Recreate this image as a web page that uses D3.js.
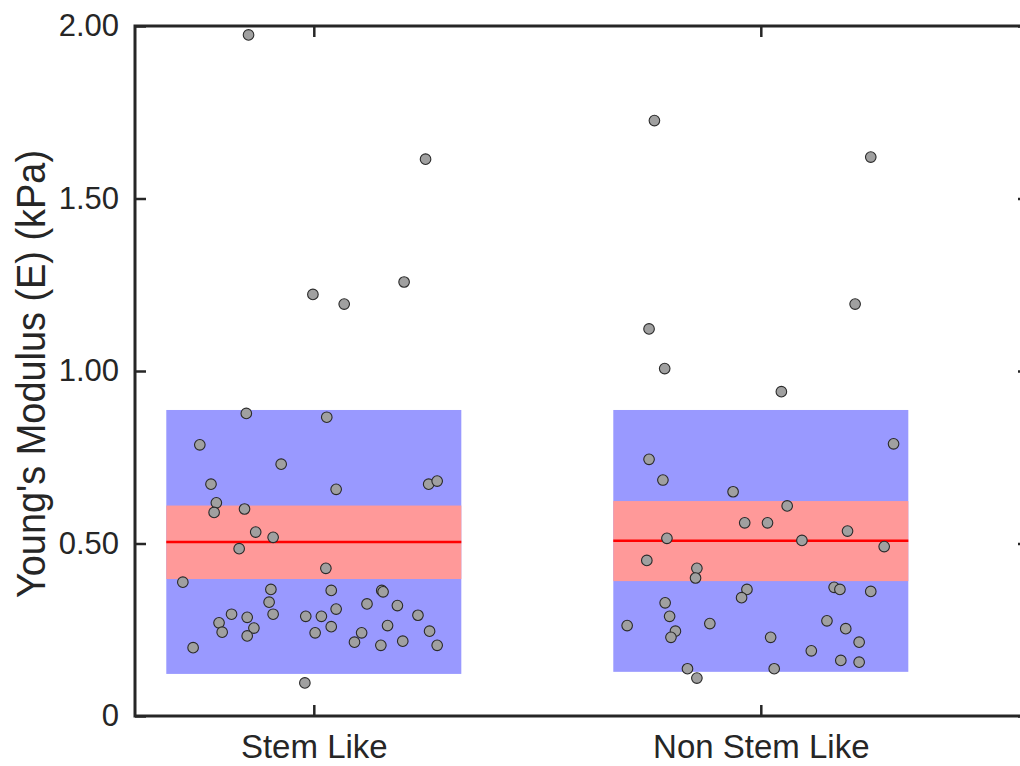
<!DOCTYPE html>
<html>
<head>
<meta charset="utf-8">
<script src="https://cdn.jsdelivr.net/npm/d3@7"></script>
<style>
  body { margin: 0; background: #fff; }
  svg { display: block; }
  text { font-family: "Liberation Sans", Arial, sans-serif; fill: #262626; }
</style>
</head>
<body>
<div id="chart"></div>
<script>
(function(d3) {
  'use strict';

  var groups = ['Stem Like', 'Non Stem Like'];
  var yTicks = [0, 0.5, 1, 1.5, 2];
  var yTickLabels = ['0', '0.50', '1.00', '1.50', '2.00'];

  // summary bands per group
  var means = [0.504, 0.508];
  var semLo = [0.397, 0.391];
  var semHi = [0.610, 0.623];
  var sdLo = [0.122, 0.128];
  var sdHi = [0.887, 0.887];

  // raw points: values and horizontal jitter (in group units)
  var stemVals = [1.974, 1.614, 1.222, 1.194, 1.258, 0.877, 0.866, 0.786, 0.730, 0.672,
    0.657, 0.672, 0.681, 0.618, 0.590, 0.600, 0.533, 0.518, 0.485, 0.428,
    0.388, 0.367, 0.330, 0.295, 0.295, 0.286, 0.270, 0.243, 0.255, 0.232,
    0.198, 0.289, 0.289, 0.364, 0.310, 0.259, 0.241, 0.325, 0.364, 0.360,
    0.320, 0.262, 0.241, 0.214, 0.205, 0.217, 0.292, 0.246, 0.205, 0.096];
  var stemJit = [-0.146, 0.250, -0.002, 0.068, 0.202, -0.151, 0.029, -0.255, -0.073, -0.230,
    0.050, 0.257, 0.276, -0.218, -0.223, -0.155, -0.130, -0.091, -0.167, 0.027,
    -0.293, -0.096, -0.100, -0.091, -0.184, -0.149, -0.212, -0.205, -0.134, -0.149,
    -0.270, -0.018, 0.017, 0.039, 0.050, 0.039, 0.003, 0.119, 0.152, 0.155,
    0.187, 0.165, 0.107, 0.091, 0.150, 0.199, 0.233, 0.259, 0.276, -0.020];

  var nonStemVals = [1.726, 1.620, 1.194, 1.122, 1.007, 0.940, 0.789, 0.744, 0.684, 0.650,
    0.609, 0.560, 0.560, 0.536, 0.515, 0.509, 0.491, 0.451, 0.428, 0.400,
    0.367, 0.343, 0.373, 0.367, 0.361, 0.328, 0.289, 0.262, 0.268, 0.246,
    0.228, 0.228, 0.276, 0.253, 0.214, 0.189, 0.161, 0.156, 0.137, 0.137, 0.110];
  var nonStemJit = [-0.238, 0.246, 0.211, -0.250, -0.215, 0.046, 0.297, -0.250, -0.219, -0.062,
    0.059, -0.036, 0.015, 0.194, -0.210, 0.092, 0.276, -0.255, -0.143, -0.146,
    -0.031, -0.043, 0.164, 0.177, 0.246, -0.214, -0.204, -0.299, -0.114, -0.191,
    -0.201, 0.022, 0.148, 0.190, 0.220, 0.113, 0.179, 0.220, -0.164, 0.030, -0.143];

  var width = 1020;
  var height = 766;
  var left = 135, right = 1029, top = 26, bottom = 716;
  var boxHalf = 0.33;

  var points = [];
  stemVals.forEach(function(v, i) { points.push({ g: 1, v: v, j: stemJit[i] }); });
  nonStemVals.forEach(function(v, i) { points.push({ g: 2, v: v, j: nonStemJit[i] }); });

  var x = d3.scaleLinear().domain([0.6, 2.6]).range([left, right]);
  var y = d3.scaleLinear().domain([0, 2]).range([bottom, top]);

  var svg = d3.select('#chart')
    .append('svg')
    .attr('width', width)
    .attr('height', height);

  var bands = svg.append('g');
  groups.forEach(function(name, i) {
    var c = i + 1;
    bands.append('rect')
      .attr('x', x(c - boxHalf))
      .attr('width', x(c + boxHalf) - x(c - boxHalf))
      .attr('y', y(sdHi[i]))
      .attr('height', y(sdLo[i]) - y(sdHi[i]))
      .attr('fill', '#9999ff');
    bands.append('rect')
      .attr('x', x(c - boxHalf))
      .attr('width', x(c + boxHalf) - x(c - boxHalf))
      .attr('y', y(semHi[i]))
      .attr('height', y(semLo[i]) - y(semHi[i]))
      .attr('fill', '#ff9999');
    bands.append('line')
      .attr('x1', x(c - boxHalf))
      .attr('x2', x(c + boxHalf))
      .attr('y1', y(means[i]))
      .attr('y2', y(means[i]))
      .attr('stroke', '#ff0000')
      .attr('stroke-width', 2.5);
  });

  svg.append('g').selectAll('circle')
    .data(points)
    .enter()
    .append('circle')
    .attr('cx', function(d) { return x(d.g + d.j); })
    .attr('cy', function(d) { return y(d.v); })
    .attr('r', 5.3)
    .attr('fill', '#a0a0a0')
    .attr('stroke', '#2a2a2a')
    .attr('stroke-width', 1.1);

  // axes (box on, ticks inward)
  var axisColor = '#262626';
  var tickLen = 11;

  var yAxis = d3.axisLeft(y)
    .tickValues(yTicks)
    .tickFormat(function(d, i) { return yTickLabels[i]; })
    .tickSizeInner(-tickLen)
    .tickSizeOuter(0)
    .tickPadding(16);
  var gy = svg.append('g')
    .attr('transform', 'translate(' + left + ',0)')
    .call(yAxis);

  var xAxis = d3.axisBottom(x)
    .tickValues([1, 2])
    .tickFormat(function(d) { return groups[d - 1]; })
    .tickSizeInner(-tickLen)
    .tickSizeOuter(0)
    .tickPadding(19);
  var gx = svg.append('g')
    .attr('transform', 'translate(0,' + bottom + ')')
    .call(xAxis);

  var gyR = svg.append('g')
    .attr('transform', 'translate(' + right + ',0)')
    .call(d3.axisRight(y).tickValues(yTicks).tickFormat('').tickSizeInner(-tickLen).tickSizeOuter(0));
  var gxT = svg.append('g')
    .attr('transform', 'translate(0,' + top + ')')
    .call(d3.axisTop(x).tickValues([1, 2]).tickFormat('').tickSizeInner(-tickLen).tickSizeOuter(0));

  [gx, gy, gyR, gxT].forEach(function(g) {
    g.select('.domain').remove();
    g.selectAll('line').attr('stroke', axisColor).attr('stroke-width', 2.5);
    g.selectAll('text').attr('fill', axisColor).attr('font-size', 31)
      .attr('font-family', '"Liberation Sans", Arial, sans-serif');
  });
  gx.selectAll('text').attr('font-size', 33);

  svg.append('rect')
    .attr('x', left)
    .attr('y', top)
    .attr('width', right - left)
    .attr('height', bottom - top)
    .attr('fill', 'none')
    .attr('stroke', axisColor)
    .attr('stroke-width', 3);

  svg.append('text')
    .attr('transform', 'translate(45,' + ((top + bottom) / 2 + 3) + ') rotate(-90)')
    .attr('text-anchor', 'middle')
    .attr('font-size', 40)
    .attr('textLength', 448)
    .attr('lengthAdjust', 'spacingAndGlyphs')
    .text("Young's Modulus (E) (kPa)");

})(window.d3);
</script>
</body>
</html>
